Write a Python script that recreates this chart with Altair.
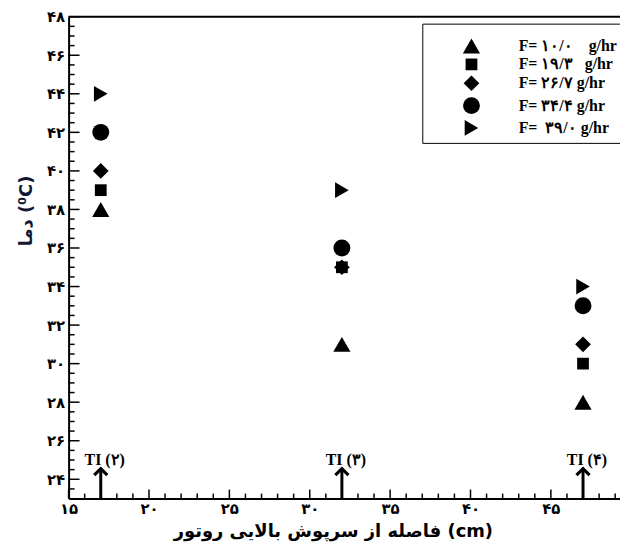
import json
import altair as alt
import pandas as pd

# ---- data ----
NB = "\u00a0"
series = ["F=" + NB + "۱۰/۰" + NB * 4 + "g/hr", "F=" + NB + "۱۹/۳" + NB * 3 + "g/hr",
          "F=" + NB + "۲۶/۷" + NB + "g/hr", "F=" + NB + "۳۴/۴" + NB + "g/hr",
          "F=" + NB * 2 + "۳۹/۰" + NB + "g/hr"]
shapes = ["triangle-up", "square", "diamond", "circle", "triangle-right"]
marker_sizes = [300, 140, 250, 290, 250]
positions = [17, 32, 47]
temp_f1 = [38, 31, 28]
temp_f2 = [39, 35, 30]
temp_f3 = [40, 35, 31]
temp_f4 = [42, 36, 33]
temp_f5 = [44, 39, 34]

x_ticks = [15, 20, 25, 30, 35, 40, 45]
x_tick_labels = ["۱۵", "۲۰", "۲۵", "۳۰", "۳۵", "۴۰", "۴۵"]
x_minor = [16, 17, 18, 19, 21, 22, 23, 24, 26, 27, 28, 29, 31, 32, 33, 34,
           36, 37, 38, 39, 41, 42, 43, 44, 46, 47, 48, 49]
y_ticks = [24, 26, 28, 30, 32, 34, 36, 38, 40, 42, 44, 46, 48]
y_tick_labels = ["۲۴", "۲۶", "۲۸", "۳۰", "۳۲", "۳۴", "۳۶", "۳۸", "۴۰", "۴۲", "۴۴", "۴۶", "۴۸"]
y_minor = [23.5, 24.5, 25, 25.5, 26.5, 27, 27.5, 28.5, 29, 29.5, 30.5, 31, 31.5,
           32.5, 33, 33.5, 34.5, 35, 35.5, 36.5, 37, 37.5, 38.5, 39, 39.5, 40.5,
           41, 41.5, 42.5, 43, 43.5, 44.5, 45, 45.5, 46.5, 47, 47.5]

ti_x = [17, 32, 47]
ti_labels = ["TI (۲)", "TI (۳)", "TI (۴)"]
arrow_base = [23, 23, 23]
arrow_tip = [24.55, 24.55, 24.55]
ti_label_y = [25.0, 25.0, 25.0]

x_title = "فاصله از سرپوش بالایی روتور (cm)"
y_title = "دما (⁰C)"

W, H = 555, 485

temps = [temp_f1, temp_f2, temp_f3, temp_f4, temp_f5]
rows = []
for s, vals in zip(series, temps):
    for xv, yv in zip(positions, vals):
        rows.append({"series": s, "x": xv, "y": yv})
df = pd.DataFrame(rows)

xs = alt.Scale(domain=[15, 49.3], nice=False, zero=False)
ys = alt.Scale(domain=[23, 48], nice=False, zero=False)

x_axis = alt.Axis(
    values=x_ticks,
    labelExpr=f"{json.dumps(x_tick_labels, ensure_ascii=False)}[indexof({json.dumps(x_ticks)}, datum.value)]",
    ticks=False, tickSize=0, grid=False,
    domainColor="black", domainWidth=2,
    labelFont="DejaVu Sans", labelFontSize=15, labelFontWeight="bold", labelColor="black",
    labelPadding=3, labelFlush=False, labelOverlap=False,
    title=x_title, titleFont="DejaVu Sans", titleFontSize=18, titleFontWeight="bold",
    titleColor="black", titleX=266, titleY=38, titleAlign="center", titleBaseline="alphabetic",
)
y_axis = alt.Axis(
    values=y_ticks,
    labelExpr=f"{json.dumps(y_tick_labels, ensure_ascii=False)}[indexof({json.dumps(y_ticks)}, datum.value)]",
    ticks=False, tickSize=0, grid=False,
    domainColor="black", domainWidth=2,
    labelFont="DejaVu Sans", labelFontSize=15, labelFontWeight="bold", labelColor="black",
    labelPadding=4, labelFlush=False, labelOverlap=False,
    title=y_title, titleFont="DejaVu Sans", titleFontSize=18, titleFontWeight="bold",
    titleColor="#111833", titleX=-42, titleY=195, titleAlign="center", titleBaseline="middle",
    titleAngle=270,
)

leg = alt.Legend(
    orient="none", legendX=356, legendY=7, title=" ", titleFontSize=9, titlePadding=0,
    strokeColor="black", fillColor="white", padding=4,
    labelFont="Liberation Serif", labelFontSize=16, labelFontWeight="bold", labelColor="black",
    symbolFillColor="black", symbolStrokeColor="black", symbolOffset=36, labelOffset=38,
    rowPadding=-1,
)

points = alt.Chart(df).mark_point(filled=True, color="black", opacity=1).encode(
    x=alt.X("x:Q", scale=xs, axis=x_axis),
    y=alt.Y("y:Q", scale=ys, axis=y_axis),
    shape=alt.Shape("series:N", scale=alt.Scale(domain=series, range=shapes), legend=leg),
    size=alt.Size("series:N", scale=alt.Scale(type="ordinal", domain=series, range=marker_sizes), legend=leg),
)

top_line = alt.Chart(pd.DataFrame({"y": [48]})).mark_rule(color="black", strokeWidth=2).encode(
    y=alt.Y("y:Q", scale=ys)
)

y_major = alt.Chart(pd.DataFrame({"y": y_ticks})).mark_rule(color="black", strokeWidth=1.5).encode(
    y=alt.Y("y:Q", scale=ys), x=alt.value(0), x2=alt.value(11)
)
y_min = alt.Chart(pd.DataFrame({"y": y_minor})).mark_rule(color="black", strokeWidth=1.5).encode(
    y=alt.Y("y:Q", scale=ys), x=alt.value(0), x2=alt.value(6)
)
x_major = alt.Chart(pd.DataFrame({"x": x_ticks})).mark_rule(color="black", strokeWidth=1.5).encode(
    x=alt.X("x:Q", scale=xs), y=alt.value(H), y2=alt.value(H - 9)
)
x_min = alt.Chart(pd.DataFrame({"x": x_minor})).mark_rule(color="black", strokeWidth=1.5).encode(
    x=alt.X("x:Q", scale=xs), y=alt.value(H), y2=alt.value(H - 5)
)

ti_df = pd.DataFrame({"x": ti_x, "label": ti_labels, "y": arrow_base, "y2": arrow_tip, "ly": ti_label_y})
arrows = alt.Chart(ti_df).mark_rule(color="black", strokeWidth=3).encode(
    x=alt.X("x:Q", scale=xs), y=alt.Y("y:Q", scale=ys), y2="y2:Q"
)
heads = alt.Chart(ti_df).mark_point(
    shape="M -0.85 0.85 L 0 0 L 0.85 0.85", filled=False, color="black", strokeWidth=3.2, opacity=1,
    size=240, strokeJoin="miter", strokeCap="butt"
).encode(x=alt.X("x:Q", scale=xs), y=alt.Y("y2:Q", scale=ys))
ti_text = alt.Chart(ti_df).mark_text(
    font="Liberation Serif", fontSize=16, fontWeight="bold", color="black",
    align="center", baseline="middle", dx=4
).encode(x=alt.X("x:Q", scale=xs), y=alt.Y("ly:Q", scale=ys), text="label:N")

chart = alt.layer(
    top_line, y_major, y_min, x_major, x_min, arrows, heads, ti_text, points
).properties(
    width=W, height=H,
    autosize=alt.AutoSizeParams(type="none"),
    padding={"left": 61, "top": 7, "right": 0, "bottom": 47},
    background="white",
).configure_view(strokeWidth=0)

chart.save("out.html", embed_options={"renderer": "svg", "actions": False})
